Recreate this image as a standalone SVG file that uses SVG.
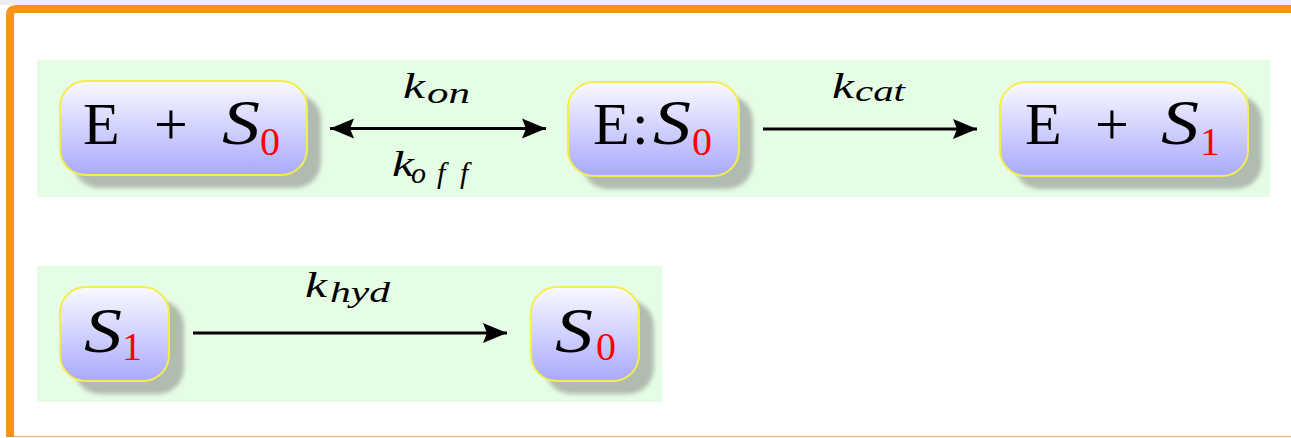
<svg xmlns="http://www.w3.org/2000/svg" width="1291" height="438" viewBox="0 0 1291 438">
  <defs>
    <linearGradient id="nodeGrad" x1="0" y1="0" x2="0" y2="1">
      <stop offset="0" stop-color="#fafaff"/>
      <stop offset="1" stop-color="#a9a9fd"/>
    </linearGradient>
    <filter id="blur" x="-20%" y="-20%" width="140%" height="140%">
      <feGaussianBlur stdDeviation="2"/>
    </filter>
    <marker id="arrow" markerUnits="userSpaceOnUse" markerWidth="30" markerHeight="24" refX="26" refY="12" orient="auto-start-reverse" viewBox="0 0 30 24">
      <path d="M26,12 L2,2 L6,12 L2,22 Z" fill="#000"/>
    </marker>
  </defs>
  <style>
    .panel { fill: #e5fde5; }
    .shadow { fill: #b1bcb1; filter: url(#blur); }
    .box { fill: url(#nodeGrad); stroke: #f3ee4a; stroke-width: 2; }
    .rm { font-family: "Liberation Serif", "DejaVu Serif", serif; font-size: 60px; fill: #000; }
    .it { font-family: "Liberation Serif", "DejaVu Serif", serif; font-style: italic; font-size: 64px; fill: #000; }
    .sub { font-family: "Liberation Serif", "DejaVu Serif", serif; font-size: 40px; fill: #ff0000; }
    .k { font-family: "Liberation Serif", "DejaVu Serif", serif; font-style: italic; font-size: 36px; fill: #000; }
    .ks { font-family: "Liberation Serif", "DejaVu Serif", serif; font-style: italic; font-size: 30px; fill: #000; }
    .conn { stroke: #000; stroke-width: 3; fill: none; }
  </style>

  <!-- page frame -->
  <rect x="0" y="0" width="1291" height="438" fill="#ffffff"/>
  <rect x="0" y="0" width="1291" height="5" fill="#eeeeee"/>
  <path d="M10,437 L10,15 Q10,9 16,9 L1291,9" fill="none" stroke="#f7931e" stroke-width="8"/>
  <line x1="14" y1="436.5" x2="1291" y2="436.5" stroke="#f8c080" stroke-width="1.5"/>

  <!-- panels -->
  <rect class="panel" x="37" y="60" width="1233" height="137"/>
  <rect class="panel" x="37" y="266" width="625" height="136"/>

  <!-- connectors -->
  <g id="connectors">
    <line class="conn" x1="330" y1="128.5" x2="546" y2="128.5" marker-start="url(#arrow)" marker-end="url(#arrow)"/>
    <line class="conn" x1="763" y1="129" x2="977" y2="129" marker-end="url(#arrow)"/>
    <line class="conn" x1="193" y1="333" x2="507" y2="333" marker-end="url(#arrow)"/>
    <text class="k" x="403" y="98" textLength="22" lengthAdjust="spacingAndGlyphs">k</text>
    <text class="ks" x="427" y="103" textLength="43" lengthAdjust="spacingAndGlyphs">on</text>
    <text class="k" x="392" y="176" textLength="22" lengthAdjust="spacingAndGlyphs">k</text>
    <text class="ks" x="411 437 460" y="183">off</text>
    <text class="k" x="832" y="98" textLength="22" lengthAdjust="spacingAndGlyphs">k</text>
    <text class="ks" x="855" y="101" textLength="50" lengthAdjust="spacingAndGlyphs">cat</text>
    <text class="k" x="305" y="297" textLength="22" lengthAdjust="spacingAndGlyphs">k</text>
    <text class="ks" x="330" y="302" textLength="60" lengthAdjust="spacingAndGlyphs">hyd</text>
  </g>

  <!-- E + S0 -->
  <g id="node-ES0">
    <rect class="shadow" x="73" y="94" width="248" height="94" rx="26"/>
    <rect class="box" x="60" y="81" width="247" height="94" rx="26"/>
    <text class="rm" x="83" y="144">E</text>
    <text class="rm" x="171" y="144" text-anchor="middle">+</text>
    <text class="it" x="222" y="144" textLength="38" lengthAdjust="spacingAndGlyphs">S</text>
    <text class="sub" x="260" y="155">0</text>
  </g>

  <!-- E:S0 -->
  <g id="node-ES0complex">
    <rect class="shadow" x="582" y="95" width="171" height="94" rx="26"/>
    <rect class="box" x="568" y="82" width="171" height="94" rx="26"/>
    <text class="rm" x="593" y="144">E</text>
    <text class="rm" x="632" y="144">:</text>
    <text class="it" x="653" y="144" textLength="38" lengthAdjust="spacingAndGlyphs">S</text>
    <text class="sub" x="692" y="155">0</text>
  </g>

  <!-- E + S1 -->
  <g id="node-ES1">
    <rect class="shadow" x="1014" y="95" width="248" height="94" rx="26"/>
    <rect class="box" x="1000" y="82" width="248" height="94" rx="26"/>
    <text class="rm" x="1025" y="144">E</text>
    <text class="rm" x="1112" y="144" text-anchor="middle">+</text>
    <text class="it" x="1161" y="144" textLength="38" lengthAdjust="spacingAndGlyphs">S</text>
    <text class="sub" x="1200" y="155">1</text>
  </g>

  <!-- S1 -->
  <g id="node-S1">
    <rect class="shadow" x="74" y="300" width="110" height="94" rx="26"/>
    <rect class="box" x="60" y="287" width="109" height="94" rx="26"/>
    <text class="it" x="84" y="352" textLength="38" lengthAdjust="spacingAndGlyphs">S</text>
    <text class="sub" x="122" y="360">1</text>
  </g>

  <!-- S0 -->
  <g id="node-S0">
    <rect class="shadow" x="545" y="300" width="109" height="94" rx="26"/>
    <rect class="box" x="531" y="287" width="108" height="94" rx="26"/>
    <text class="it" x="555" y="352" textLength="38" lengthAdjust="spacingAndGlyphs">S</text>
    <text class="sub" x="596" y="360">0</text>
  </g>
</svg>
